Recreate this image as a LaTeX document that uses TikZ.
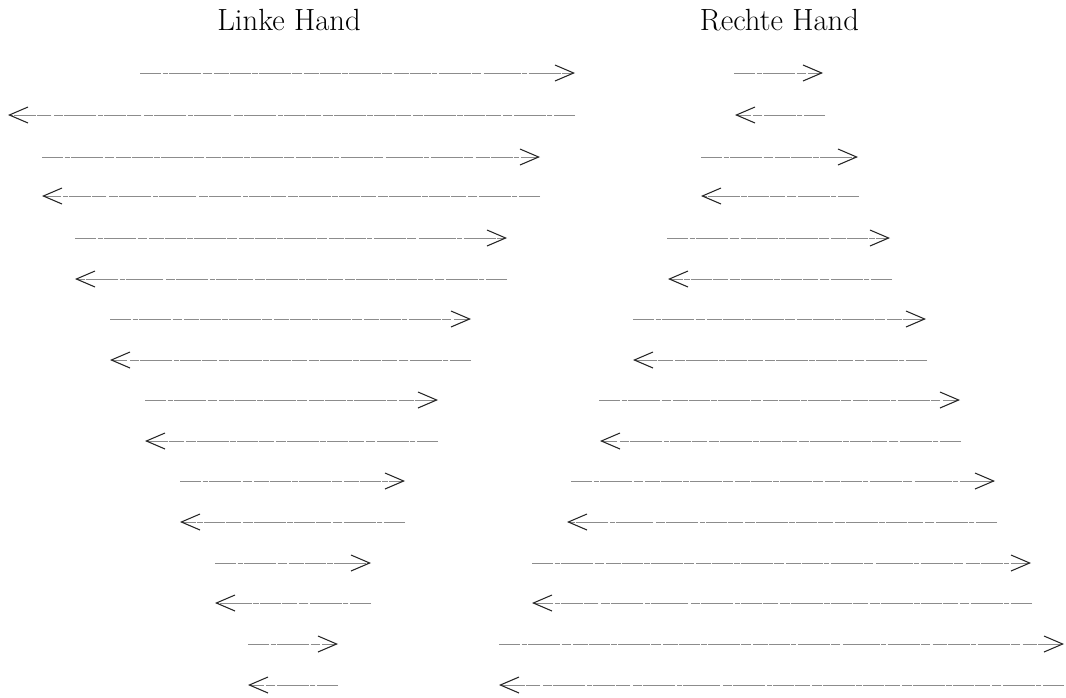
\documentclass[tikz,border=0pt]{standalone}
\usetikzlibrary{arrows.meta}
\begin{document}
\begin{tikzpicture}[x=0.75pt,y=-0.75pt,
  mv/.style={draw=black!45, line width=0.6pt,
    dash pattern=on 16pt off 0.9pt on 4pt off 1.2pt on 24pt off 0.8pt on 7pt off 1.8pt on 11pt off 0.7pt,
    -{Straight Barb[length=14pt,width=12pt,line width=0.8pt,color=black!85]}},
  ttl/.style={font=\fontsize{23}{27}\selectfont, inner sep=0pt, anchor=base}]
\useasboundingbox (0,0) rectangle (1066,697);
\node[ttl] (tl) at (289,30) {Linke Hand};
\node[ttl] (tr) at (779.5,30) {Rechte Hand};
% left hand
\foreach \n/\y/\a/\b in {1/73/140/575, 2/115/575/8, 3/157/42/540, 4/196/540/42,
  5/238/75/507, 6/279/507/75, 7/319/110/471, 8/360/471/110,
  9/400/145/438, 10/441/438/145, 11/481/180/405, 12/522/405/180,
  13/563/215/371, 14/603/371/215, 15/644/248/338, 16/685/338/248}{
  \coordinate (La\n) at (\a,\y);
  \coordinate (Lb\n) at (\b,\y);
  \draw[mv] (La\n) -- (Lb\n);
}
% right hand
\foreach \n/\y/\a/\b in {1/73/734/823, 2/115/825/735, 3/157/701/858, 4/196/859/701,
  5/238/667/890, 6/279/892/668, 7/319/633/926, 8/360/927/633,
  9/400/599/960, 10/441/961/600, 11/481/571/995, 12/522/997/567,
  13/563/532/1031, 14/603/1032/532, 15/644/499/1064, 16/685/1064/499}{
  \coordinate (Ra\n) at (\a,\y);
  \coordinate (Rb\n) at (\b,\y);
  \draw[mv] (Ra\n) -- (Rb\n);
}
\end{tikzpicture}
\end{document}
